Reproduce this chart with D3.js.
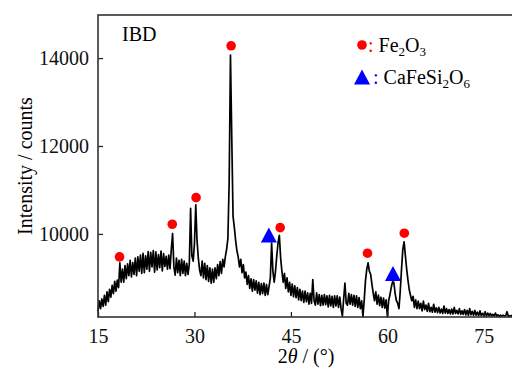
<!DOCTYPE html>
<html>
<head>
<meta charset="utf-8">
<script src="https://cdn.jsdelivr.net/npm/d3@7"></script>
<style>
  body { margin: 0; background: #fff; }
  svg { display: block; }
  svg text { font-family: "Liberation Serif", "Times New Roman", serif; }
</style>
</head>
<body>
<script>
// XRD scan, 15-80 deg, step 0.2 deg
const scanStart = 15, scanStep = 0.2;
const intensity = [
  8230, 8480, 8300, 8520, 8350,   // 15
  8600, 8380, 8680, 8460, 8740,   // 16
  8560, 8830, 8640, 8920, 8700,   // 17
  8950, 8780, 9340, 8900, 9200,   // 18
  8900, 9280, 8980, 9320, 9050,   // 19
  9400, 9020, 9350, 9080, 9450,   // 20
  9050, 9480, 9150, 9520, 9100,   // 21
  9560, 9120, 9500, 9200, 9600,   // 22
  9150, 9580, 9250, 9620, 9130,   // 23
  9590, 9180, 9530, 9230, 9610,   // 24
  9160, 9550, 9260, 9490, 9200,   // 25
  9520, 9210, 9650, 10010, 9250,  // 26
  9060, 9450, 9120, 9400, 9050,   // 27
  9420, 9100, 9380, 9050, 9330,   // 28
  9080, 9320, 10580, 9500, 9380,  // 29
  9780, 10660, 9850, 9450, 9180,  // 30
  9050, 9380, 9000, 9330, 8960,   // 31
  9280, 8920, 9230, 8880, 9200,   // 32
  8900, 9230, 8980, 9300, 9050,   // 33
  9370, 9100, 9420, 9250, 9480,   // 34
  9650, 9900, 11200, 14070, 12200,// 35
  10400, 10150, 9850, 9620, 9480, // 36
  9250, 9420, 9120, 9300, 9000,   // 37
  9130, 8850, 9050, 8760, 8980,   // 38
  8700, 8960, 8720, 8930, 8650,   // 39
  8900, 8620, 8870, 8640, 8880,   // 40
  8600, 8850, 8620, 8800, 9000,   // 41
  9790, 9150, 8900, 9150, 9500,   // 42
  9800, 9970, 9450, 9150, 8900,   // 43
  9100, 8760, 9000, 8680, 8900,   // 44
  8600, 8860, 8570, 8820, 8550,   // 45
  8780, 8500, 8740, 8480, 8700,   // 46
  8440, 8700, 8460, 8660, 8400,   // 47
  8650, 8420, 8960, 8480, 8380,   // 48
  8660, 8400, 8620, 8370, 8600,   // 49
  8380, 8620, 8390, 8590, 8340,   // 50
  8600, 8360, 8580, 8330, 8590,   // 51
  8360, 8590, 8330, 8560, 8300,   // 52
  8130, 8520, 8880, 8420, 8380,   // 53
  8650, 8400, 8620, 8380, 8600,   // 54
  8350, 8590, 8330, 8550, 8300,   // 55
  8480, 8120, 8500, 8950, 9200,   // 56
  9340, 9150, 9080, 8850, 8650,   // 57
  8480, 8680, 8400, 8610, 8370,   // 58
  8560, 8330, 8540, 8310, 8500,   // 59
  8120, 8480, 8620, 8780, 8910,   // 60
  8900, 8650, 8480, 8420, 8300,   // 61
  8700, 9200, 9650, 9820, 9500,   // 62
  9200, 8950, 8730, 8600, 8480,   // 63
  8580, 8330, 8500, 8300, 8470,   // 64
  8300, 8420, 8250, 8470, 8280,   // 65
  8380, 8240, 8420, 8230, 8330,   // 66
  8220, 8400, 8220, 8320, 8210,   // 67
  8330, 8200, 8290, 8190, 8360,   // 68
  8200, 8300, 8190, 8280, 8180,   // 69
  8290, 8180, 8330, 8190, 8260,   // 70
  8180, 8300, 8170, 8250, 8170,   // 71
  8280, 8160, 8260, 8150, 8300,   // 72
  8160, 8240, 8150, 8260, 8150,   // 73
  8220, 8140, 8250, 8140, 8190,   // 74
  8140, 8230, 8130, 8200, 8140,   // 75
  8190, 8130, 8170, 8130, 8200,   // 76
  8130, 8160, 8125, 8150, 8130,   // 77
  8150, 8125, 8140, 8230, 8125,   // 78
  8140, 8125, 8150, 8130, 8135,   // 79
  8140                            // 80
];
const twoTheta = intensity.map((v, i) => scanStart + i * scanStep);

// phase markers
const fe2o3Pos = [18.35, 26.55, 30.25, 35.7, 43.33, 56.91, 62.63];
const fe2o3Int = [9477, 10220, 10825, 14280, 10143, 9561, 10016];
const cafePos = [41.57, 60.87];
const cafeInt = [9977, 9098];

const xTicks = [15, 30, 45, 60, 75];
const yTicks = [10000, 12000, 14000];

const W = 512, H = 369;
const margin = { left: 98, top: 15, right: -4, bottom: 52 };
const serif = '"Liberation Serif", "Times New Roman", serif';

const x = d3.scaleLinear().domain([15, 80]).range([margin.left, W - margin.right]);
const y = d3.scaleLinear().domain([8110, 14980]).range([H - margin.bottom, margin.top]);

const svg = d3.select('body').append('svg')
  .attr('width', W).attr('height', H);

// curve
const line = d3.line()
  .x((d, i) => x(twoTheta[i]))
  .y(d => y(d));
svg.append('path')
  .datum(intensity)
  .attr('d', line)
  .attr('fill', 'none')
  .attr('stroke', '#000')
  .attr('stroke-width', 1.7)
  .attr('stroke-linejoin', 'round');

// axes
const xAxis = d3.axisBottom(x).tickValues(xTicks).tickFormat(d3.format('d'))
  .tickSizeInner(-5).tickSizeOuter(0).tickPadding(12);
const yAxis = d3.axisLeft(y).tickValues(yTicks).tickFormat(d3.format('d'))
  .tickSizeInner(-5).tickSizeOuter(0).tickPadding(9);

const gx = svg.append('g')
  .attr('transform', 'translate(0,' + (H - margin.bottom) + ')')
  .call(xAxis);
const gy = svg.append('g')
  .attr('transform', 'translate(' + margin.left + ',0)')
  .call(yAxis);

[gx, gy].forEach(g => {
  g.attr('font-family', serif).attr('font-size', 20);
  g.select('.domain').remove();
  g.selectAll('line').attr('stroke', '#222').attr('stroke-width', 1.3);
  g.selectAll('text').attr('fill', '#111');
});
gx.selectAll('text').attr('dy', '0.71em');
gy.selectAll('text').attr('dy', '0.33em');

// frame
svg.append('rect')
  .attr('x', x(15)).attr('y', y(14980))
  .attr('width', x(80) - x(15)).attr('height', y(8110) - y(14980))
  .attr('fill', 'none').attr('stroke', '#333').attr('stroke-width', 1.6);

// markers
svg.append('g').selectAll('circle')
  .data(fe2o3Pos)
  .join('circle')
  .attr('cx', d => x(d))
  .attr('cy', (d, i) => y(fe2o3Int[i]))
  .attr('r', 4.8)
  .attr('fill', '#ff0000');

const tri = (cx, cy) => 'M' + cx + ',' + (cy - 7.5) + 'L' + (cx + 8) + ',' + (cy + 7.5) + 'L' + (cx - 8) + ',' + (cy + 7.5) + 'Z';
svg.append('g').selectAll('path')
  .data(cafePos)
  .join('path')
  .attr('d', (d, i) => tri(x(d), y(cafeInt[i])))
  .attr('fill', '#0000ff');

// labels
svg.append('text')
  .attr('x', 122).attr('y', 41)
  .attr('font-size', 20)
  .text('IBD');

svg.append('text')
  .attr('transform', 'translate(32,' + (y(8110) + y(14980)) / 2 + ') rotate(-90)')
  .attr('text-anchor', 'middle')
  .attr('font-size', 20)
  .text('Intensity / counts');

const xt = svg.append('text')
  .attr('x', 306).attr('y', 363)
  .attr('text-anchor', 'middle')
  .attr('font-size', 20);
xt.append('tspan').text('2');
xt.append('tspan').attr('font-style', 'italic').text('θ');
xt.append('tspan').text(' / (°)');

// legend
svg.append('circle').attr('cx', 362).attr('cy', 45).attr('r', 4.8).attr('fill', '#ff0000');
const l1 = svg.append('text').attr('x', 368).attr('y', 52).attr('font-size', 20);
l1.append('tspan').attr('fill', '#ff0000').text(': ');
l1.append('tspan').text('Fe');
l1.append('tspan').attr('font-size', 13).attr('dy', 4).text('2');
l1.append('tspan').attr('dy', -4).text('O');
l1.append('tspan').attr('font-size', 13).attr('dy', 4).text('3');

svg.append('path').attr('d', tri(362, 77)).attr('fill', '#0000ff');
const l2 = svg.append('text').attr('x', 373).attr('y', 84).attr('font-size', 20);
l2.append('tspan').attr('fill', '#0000ff').text(': ');
l2.append('tspan').text('CaFeSi');
l2.append('tspan').attr('font-size', 13).attr('dy', 4).text('2');
l2.append('tspan').attr('dy', -4).text('O');
l2.append('tspan').attr('font-size', 13).attr('dy', 4).text('6');
</script>
</body>
</html>
